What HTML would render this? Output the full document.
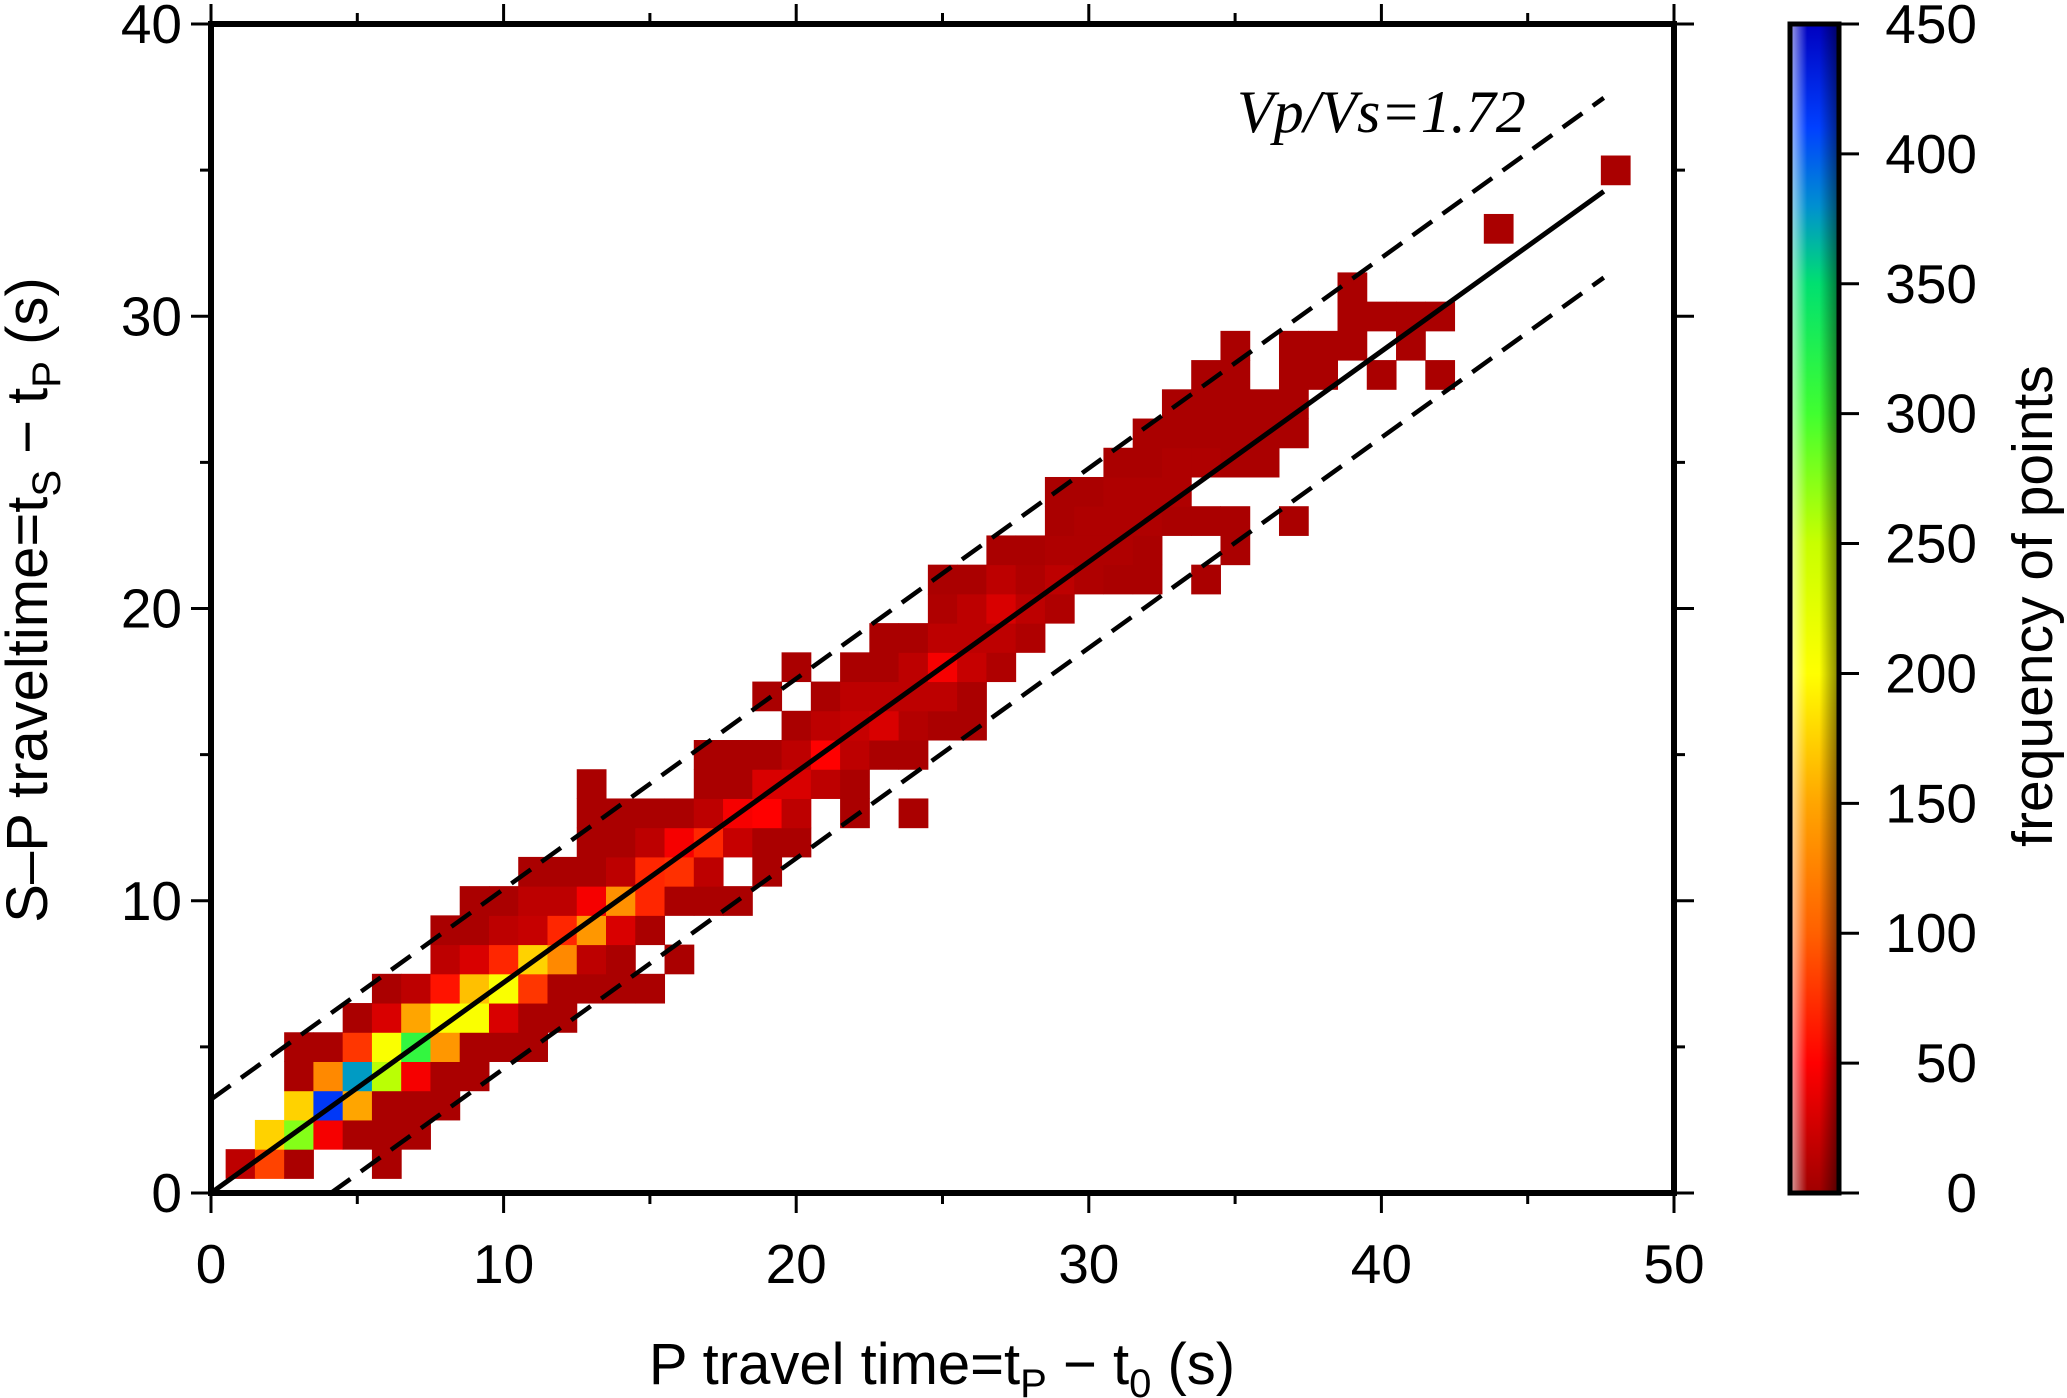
<!DOCTYPE html>
<html><head><meta charset="utf-8"><style>
html,body{margin:0;padding:0;background:#fff;}
svg{display:block;font-family:"Liberation Sans",sans-serif;}
</style></head><body>
<svg id="chart" width="2067" height="1398" viewBox="0 0 2067 1398" xmlns="http://www.w3.org/2000/svg">
<defs>
<linearGradient id="cmap" x1="0" y1="1" x2="0" y2="0">
<stop offset="0" stop-color="#a00000"/>
<stop offset="0.111" stop-color="#ff0000"/>
<stop offset="0.222" stop-color="#ff6000"/>
<stop offset="0.333" stop-color="#ffa500"/>
<stop offset="0.444" stop-color="#ffff00"/>
<stop offset="0.556" stop-color="#c8ff00"/>
<stop offset="0.667" stop-color="#40ff30"/>
<stop offset="0.778" stop-color="#00e070"/>
<stop offset="0.844" stop-color="#0090d0"/>
<stop offset="0.911" stop-color="#0040ff"/>
<stop offset="1" stop-color="#0000c0"/>
</linearGradient>
<linearGradient id="illum" x1="0" y1="0" x2="1" y2="0">
<stop offset="0" stop-color="#fff" stop-opacity="0.65"/>
<stop offset="0.35" stop-color="#fff" stop-opacity="0"/>
<stop offset="0.6" stop-color="#000" stop-opacity="0"/>
<stop offset="1" stop-color="#000" stop-opacity="0.5"/>
</linearGradient>
</defs>
<g id="cells"></g>
<g id="lines"></g>
<g id="axes"></g>
<text x="1237" y="132" font-family="Liberation Serif, serif" font-style="italic" font-size="60">Vp/Vs=1.72</text>
<text x="942" y="1384" font-size="58" text-anchor="middle">P travel time=t<tspan font-size="40" dy="13">P</tspan><tspan dy="-13"> − t</tspan><tspan font-size="40" dy="13">0</tspan><tspan dy="-13"> (s)</tspan></text>
<text transform="translate(47,600) rotate(-90)" font-size="58" text-anchor="middle">S–P traveltime=t<tspan font-size="40" dy="13">S</tspan><tspan dy="-13"> − t</tspan><tspan font-size="40" dy="13">P</tspan><tspan dy="-13"> (s)</tspan></text>
<g id="cbar"></g>
<text transform="translate(2052,606) rotate(-90)" font-size="57" text-anchor="middle">frequency of points</text>
</svg>
<script>
const xTicks=[0,10,20,30,40,50];
const yTicks=[0,10,20,30,40];
const cbTicks=[0,50,100,150,200,250,300,350,400,450];
const vpvs=[1.72];
const bandUpper=[3.2];
const bandLower=[-2.95];
const lineEndX=[47.6];
const cellX=[1,2,3,6, 2,3,4,5,6,7, 3,4,5,6,7,8, 3,4,5,6,7,8,9, 3,4,5,6,7,8,9,10,11, 5,6,7,8,9,10,11,12,
6,7,8,9,10,11,12,13,14,15, 8,9,10,11,12,13,14,16, 8,9,10,11,12,13,14,15, 9,10,11,12,13,14,15,16,17,18,
11,12,13,14,15,16,17,19, 13,14,15,16,17,18,19,20, 13,14,15,16,17,18,19,20,22,24, 13,17,18,19,20,21,22,
17,18,19,20,21,22,23,24, 20,21,22,23,24,25,26, 19,21,22,23,24,25,26, 20,22,23,24,25,26,27, 23,24,25,26,27,28,
25,26,27,28,29, 25,26,27,28,29,30,31,32,34, 27,28,29,30,31,32,35, 29,30,31,32,33,34,35,37, 29,30,31,32,33,
31,32,33,34,35,36, 32,33,34,35,36,37, 33,34,35,36,37, 34,35,37,38,40,42, 35,37,38,39,41, 39,40,41,42, 39, 44, 48];
const cellY=[1,1,1,1, 2,2,2,2,2,2, 3,3,3,3,3,3, 4,4,4,4,4,4,4, 5,5,5,5,5,5,5,5,5, 6,6,6,6,6,6,6,6,
7,7,7,7,7,7,7,7,7,7, 8,8,8,8,8,8,8,8, 9,9,9,9,9,9,9,9, 10,10,10,10,10,10,10,10,10,10,
11,11,11,11,11,11,11,11, 12,12,12,12,12,12,12,12, 13,13,13,13,13,13,13,13,13,13, 14,14,14,14,14,14,14,
15,15,15,15,15,15,15,15, 16,16,16,16,16,16,16, 17,17,17,17,17,17,17, 18,18,18,18,18,18,18, 19,19,19,19,19,19,
20,20,20,20,20, 21,21,21,21,21,21,21,21,21, 22,22,22,22,22,22,22, 23,23,23,23,23,23,23,23, 24,24,24,24,24,
25,25,25,25,25,25, 26,26,26,26,26,26, 27,27,27,27,27, 28,28,28,28,28,28, 29,29,29,29,29, 30,30,30,30, 31, 33, 35];
const cellN=[15,85,5,5, 175,275,45,5,5,5, 175,415,150,5,5,5, 5,130,375,255,45,5,5, 5,5,78,205,310,140,5,5,5, 5,30,150,205,205,30,5,5,
5,15,60,165,205,78,5,5,5,5, 15,30,70,175,130,15,5,5, 5,5,15,20,70,140,30,5, 5,5,15,15,45,135,70,5,5,5,
5,5,5,15,70,75,15,5, 5,5,15,45,70,20,5,5, 5,5,5,5,15,45,50,15,5,5, 5,5,5,30,30,15,5,
5,5,5,15,50,15,5,5, 5,15,20,30,10,5,5, 5,5,15,15,15,15,5, 5,5,5,15,45,20,8, 5,5,15,15,15,8,
8,15,30,15,8, 5,5,15,8,15,8,5,5,5, 5,5,8,8,8,5,5, 5,8,8,8,5,5,5,5, 5,5,8,8,8,
5,5,8,8,5,5, 5,5,5,5,5,5, 5,5,5,5,5, 5,5,5,5,5,5, 5,5,5,5,5, 5,5,5,5, 5, 5, 5];

const NS='http://www.w3.org/2000/svg';
const X0=211,X1=1674,Y0=1193,Y1=24;
const sx=v=>X0+(v-0)/(50-0)*(X1-X0);
const sy=v=>Y0-(v-0)/(40-0)*(Y0-Y1);
const CB0=24,CB1=1193,CBX=1790,CBW=49,CBMAX=450;
const sc=v=>CB1-v/CBMAX*(CB1-CB0);
const stops=[[0,[160,0,0]],[50,[255,0,0]],[100,[255,96,0]],[150,[255,165,0]],[200,[255,255,0]],[250,[200,255,0]],[300,[64,255,48]],[350,[0,208,128]],[380,[0,144,208]],[410,[0,64,255]],[450,[0,0,192]]];
function cmap(v){
  for(let i=0;i<stops.length-1;i++){
    const a=stops[i],b=stops[i+1];
    if(v<=b[0]){const t=(v-a[0])/(b[0]-a[0]);const c=a[1].map((q,k)=>Math.round(q+(b[1][k]-q)*t));return 'rgb('+c.join(',')+')';}
  }
  return 'rgb(0,0,192)';
}
function mk(tag,attrs,parent){const e=document.createElementNS(NS,tag);for(const k in attrs)e.setAttribute(k,attrs[k]);parent.appendChild(e);return e;}

const gC=document.getElementById('cells');
for(let i=0;i<cellX.length;i++){
  const x=sx(cellX[i]-0.5),w=sx(cellX[i]+0.5)-x,y=sy(cellY[i]+0.5),h=sy(cellY[i]-0.5)-y;
  const r=mk('rect',{x:x,y:y,width:w+0.5,height:h+0.5,fill:cmap(cellN[i])},gC);
  
  
}

const gL=document.getElementById('lines');
const k=vpvs[0]-1,xe=lineEndX[0];
const fit=mk('line',{x1:sx(0),y1:sy(0),x2:sx(xe),y2:sy(k*xe),stroke:'#000','stroke-width':5},gL);


const up=mk('line',{x1:sx(0),y1:sy(bandUpper[0]),x2:sx(xe),y2:sy(bandUpper[0]+k*xe),stroke:'#000','stroke-width':4.5,'stroke-dasharray':'24 13'},gL);


const xs=-bandLower[0]/k;
const lo=mk('line',{x1:sx(xs),y1:sy(0),x2:sx(xe),y2:sy(bandLower[0]+k*xe),stroke:'#000','stroke-width':4.5,'stroke-dasharray':'24 13'},gL);



const gA=document.getElementById('axes');
const frame=mk('rect',{x:X0,y:Y1,width:X1-X0,height:Y0-Y1,fill:'none',stroke:'#000','stroke-width':6},gA);


const tk=(x1,y1,x2,y2)=>mk('line',{x1:x1,y1:y1,x2:x2,y2:y2,stroke:'#000','stroke-width':3},gA);
for(let v=0;v<=50;v+=5){
  const L=(v%10===0)?20:11;
  tk(sx(v),Y0,sx(v),Y0+L);tk(sx(v),Y1,sx(v),Y1-L);
}
for(let v=0;v<=40;v+=5){
  const L=(v%10===0)?20:11;
  tk(X0,sy(v),X0-L,sy(v));tk(X1,sy(v),X1+L,sy(v));
}
xTicks.forEach(v=>{
  const t=mk('text',{x:sx(v),y:1283,'font-size':55,'text-anchor':'middle'},gA);t.textContent=v;
  
  
});
yTicks.forEach(v=>{
  const t=mk('text',{x:182,y:sy(v)+19,'font-size':55,'text-anchor':'end'},gA);t.textContent=v;
  
  
});

const gB=document.getElementById('cbar');
mk('rect',{x:CBX,y:CB0,width:CBW,height:CB1-CB0,fill:'url(#cmap)'},gB);
mk('rect',{x:CBX,y:CB0,width:CBW,height:CB1-CB0,fill:'url(#illum)'},gB);
const cbf=mk('rect',{x:CBX,y:CB0,width:CBW,height:CB1-CB0,fill:'none',stroke:'#000','stroke-width':5},gB);


cbTicks.forEach(v=>{
  mk('line',{x1:CBX+CBW,y1:sc(v),x2:CBX+CBW+20,y2:sc(v),stroke:'#000','stroke-width':3},gB);
  const t=mk('text',{x:1977,y:sc(v)+19,'font-size':55,'text-anchor':'end'},gB);t.textContent=v;
  
  
});
</script>
</body></html>
